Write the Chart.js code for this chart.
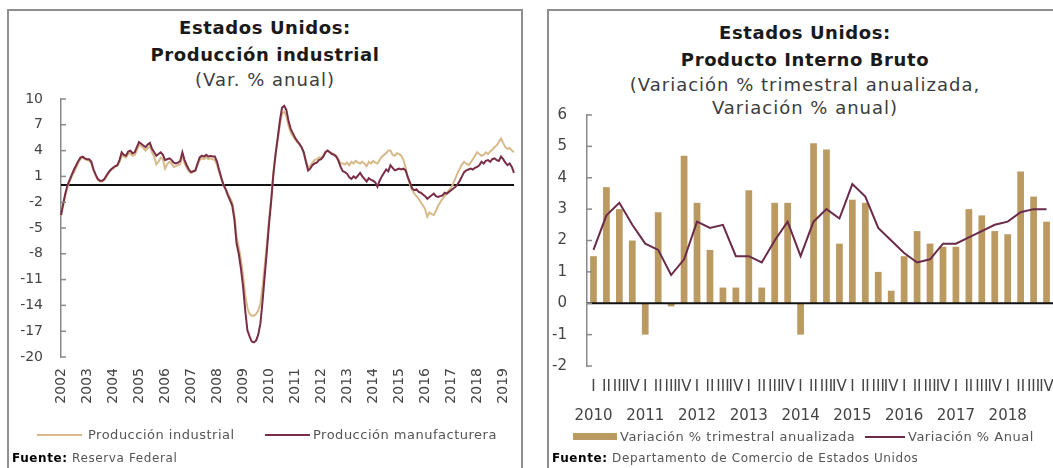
<!DOCTYPE html>
<html><head><meta charset="utf-8">
<script src="https://cdn.jsdelivr.net/npm/chart.js@4.4.1/dist/chart.umd.min.js"></script>
<style>
html,body{margin:0;padding:0;background:#fff;}
body{width:1053px;height:468px;position:relative;overflow:hidden;font-family:'DejaVu Sans',sans-serif;}
.panel{position:absolute;border:2px solid #8f8f8f;box-sizing:border-box;}
.t{position:absolute;text-align:center;white-space:nowrap;line-height:20px;}
.b{font-weight:bold;font-size:18px;letter-spacing:0.6px;color:#1a1a1a;}
.s{font-size:18px;letter-spacing:1px;color:#3c3c3c;}
.leg{position:absolute;font-size:13px;letter-spacing:0.5px;line-height:14px;color:#555;white-space:nowrap;}
.sw{position:absolute;}
.src{position:absolute;font-size:12px;letter-spacing:0.6px;line-height:14px;color:#555;white-space:nowrap;}
.src b{color:#000;}
canvas{position:absolute;}
</style></head>
<body>
<div class="panel" style="left:7px;top:9px;width:516px;height:480px;"></div>
<div class="panel" style="left:547px;top:9px;width:530px;height:480px;"></div>

<div class="t b" style="left:7px;width:516px;top:18px;">Estados Unidos:</div>
<div class="t b" style="left:7px;width:516px;top:45px;">Producción industrial</div>
<div class="t s" style="left:7px;width:516px;top:70px;">(Var. % anual)</div>

<div class="t b" style="left:547px;width:516px;top:23px;">Estados Unidos:</div>
<div class="t b" style="left:547px;width:516px;top:50px;">Producto Interno Bruto</div>
<div class="t s" style="left:547px;width:516px;top:75px;">(Variación % trimestral anualizada,</div>
<div class="t s" style="left:547px;width:516px;top:98px;">Variación % anual)</div>

<canvas id="c1" width="511" height="405" style="left:10px;top:12px;width:511px;height:405px;"></canvas>
<canvas id="c2" width="503" height="430" style="left:550px;top:12px;width:503px;height:430px;"></canvas>

<div class="sw" style="left:37px;top:434px;width:45px;height:2px;background:#d7ba8a;"></div>
<div class="leg" style="left:88px;top:428px;">Producción industrial</div>
<div class="sw" style="left:265px;top:434px;width:45px;height:2px;background:#7a2e45;"></div>
<div class="leg" style="left:313px;top:428px;">Producción manufacturera</div>
<div class="src" style="left:12px;top:451px;"><b>Fuente:</b> Reserva Federal</div>

<div class="sw" style="left:573px;top:433px;width:44px;height:7px;background:#bb9a62;"></div>
<div class="leg" style="left:620px;top:430px;">Variación % trimestral anualizada</div>
<div class="sw" style="left:865px;top:436px;width:40px;height:2px;background:#6a2a48;"></div>
<div class="leg" style="left:908px;top:430px;">Variación % Anual</div>
<div class="src" style="left:552px;top:451px;"><b>Fuente:</b> Departamento de Comercio de Estados Unidos</div>

<script>
// ---------- Producción industrial (monthly, Jan 2002 onward) ----------
const ipYears = ['2002','2003','2004','2005','2006','2007','2008','2009','2010','2011','2012','2013','2014','2015','2016','2017','2018','2019'];
const ipYTicks = [10,7,4,1,-2,-5,-8,-11,-14,-17,-20];
const ipIndustrial = [
-3.6,-2.4,-1.2,-0.2,0.4,1.0,1.5,2.0,2.6,3.0,3.2,3.0,
2.9,2.8,2.5,1.7,1.1,0.6,0.4,0.4,0.6,1.0,1.4,1.7,
1.9,2.1,2.2,2.7,3.4,3.3,3.2,3.6,3.7,3.4,3.5,4.0,
4.7,4.5,4.3,4.0,4.3,4.5,3.8,3.3,2.4,2.7,3.2,3.0,
1.9,2.4,2.7,2.5,2.1,2.2,2.3,2.4,3.5,2.5,2.0,1.6,
1.4,1.5,1.7,2.3,2.9,3.1,3.0,3.2,3.0,3.1,3.0,2.9,
2.3,1.5,0.7,0.0,-0.5,-1.0,-1.5,-2.0,-3.5,-6.0,-7.2,-8.6,
-10.5,-12.8,-14.3,-15.0,-15.2,-15.2,-15.0,-14.6,-13.8,-11.8,-9.4,-6.8,
-4.0,-1.5,1.5,3.6,5.3,7.0,8.3,8.5,8.0,6.9,6.1,5.7,
5.3,5.0,4.7,4.3,3.7,2.8,2.0,2.2,2.6,2.9,3.0,3.2,
3.2,3.4,3.9,4.0,3.8,3.7,3.6,3.4,3.0,2.5,2.5,2.4,
2.6,2.3,2.7,2.5,2.8,2.6,2.5,2.7,2.5,2.2,2.7,2.5,
2.8,2.6,2.5,2.9,3.3,3.5,3.7,4.0,4.0,3.5,3.4,3.7,
3.6,3.4,2.9,2.0,0.9,0.0,-0.6,-1.0,-1.3,-1.6,-2.0,-2.4,
-2.8,-3.7,-3.2,-3.4,-3.5,-3.0,-2.4,-2.0,-1.6,-1.3,-1.0,-0.6,
-0.3,0.2,0.8,1.4,1.9,2.4,2.7,2.5,2.3,2.6,3.0,3.4,
3.8,3.6,3.4,3.5,3.8,3.6,3.9,4.1,4.4,4.6,5.0,5.4,
4.9,4.4,4.2,4.3,4.0,3.8
];
const ipManufacturing = [
-3.5,-2.2,-1.0,0.0,0.6,1.2,1.8,2.3,2.8,3.2,3.3,3.1,
3.0,3.0,2.7,1.8,1.2,0.7,0.5,0.5,0.7,1.1,1.5,1.8,
2.0,2.2,2.3,2.9,3.8,3.5,3.4,3.9,4.0,3.7,3.8,4.4,
5.0,4.8,4.6,4.4,4.7,4.9,4.2,3.8,3.4,3.6,3.8,3.5,
2.9,3.0,3.1,2.9,2.6,2.5,2.6,2.8,3.8,2.9,2.3,1.8,
1.5,1.6,1.7,2.5,3.2,3.4,3.3,3.5,3.3,3.4,3.3,3.3,
2.7,1.7,0.8,0.0,-0.5,-1.2,-1.8,-2.4,-4.0,-6.8,-8.0,-9.7,
-11.8,-14.6,-16.9,-17.6,-18.2,-18.3,-18.1,-17.4,-16.1,-13.5,-10.5,-7.6,
-4.5,-1.8,1.3,3.6,5.5,7.5,9.0,9.2,8.7,7.4,6.5,6.0,
5.5,5.1,4.8,4.4,3.8,2.7,1.7,1.9,2.3,2.5,2.6,2.9,
3.0,3.3,3.8,4.0,3.8,3.6,3.5,3.3,2.8,2.1,1.6,1.5,
1.3,0.9,0.7,1.0,0.8,1.1,1.4,1.0,0.7,0.4,0.8,0.6,
0.5,0.3,-0.2,0.5,1.0,1.4,1.8,1.6,2.3,2.0,1.7,1.8,
1.9,1.8,1.9,1.7,0.9,0.3,-0.4,-0.6,-0.5,-0.8,-0.9,-1.1,
-1.3,-1.6,-1.4,-1.2,-1.0,-1.3,-1.4,-1.3,-1.2,-0.9,-1.0,-0.8,
-0.6,-0.4,-0.2,0.1,0.5,1.0,1.5,1.7,1.8,1.9,1.8,2.0,
2.1,2.3,2.7,2.5,2.8,2.9,2.7,3.0,3.1,2.9,2.8,3.3,
3.0,2.6,2.3,2.5,2.1,1.4
];

// ---------- PIB (quarterly, 2010-I to 2018-IV) ----------
const gdpYears = ['2010','2011','2012','2013','2014','2015','2016','2017','2018'];
const gdpQuarters = ['I','II','III','IV'];
const gdpYTicks = [6,5,4,3,2,1,0,-1,-2];
const gdpQuarterly = [1.5,3.7,3.0,2.0, -1.0,2.9,-0.1,4.7, 3.2,1.7,0.5,0.5, 3.6,0.5,3.2,3.2,
                      -1.0,5.1,4.9,1.9, 3.3,3.2,1.0,0.4, 1.5,2.3,1.9,1.8, 1.8,3.0,2.8,2.3, 2.2,4.2,3.4,2.6];
const gdpAnnual = [1.7,2.8,3.2,2.5, 1.9,1.7,0.9,1.4, 2.6,2.4,2.5,1.5, 1.5,1.3,2.0,2.6,
                   1.5,2.6,3.0,2.7, 3.8,3.4,2.4,2.0, 1.6,1.3,1.4,1.9, 1.9,2.1,2.3,2.5, 2.6,2.9,3.0,3.0];

// ---------- build categories ----------
const ipAllMonths = [];
ipYears.forEach(y => { for (let m = 1; m <= 12; m++) ipAllMonths.push(y + '-' + String(m).padStart(2, '0')); });
const ipLabels = ipAllMonths.slice(0, ipIndustrial.length);
const gdpLabels = [];
gdpYears.forEach(y => gdpQuarters.forEach((q, k) => gdpLabels.push(k === 0 ? [q, y] : [q, ''])));

Chart.defaults.font.family = "'DejaVu Sans', sans-serif";
Chart.defaults.color = '#555';

const decor = {
  id: 'decor',
  beforeDatasetsDraw(chart, args, o) { if (!o.zeroOnTop) drawZero(chart); },
  afterDatasetsDraw(chart, args, o) { if (o.zeroOnTop) drawZero(chart); drawInnerTicks(chart); }
};
function drawZero(chart) {
  const ctx = chart.ctx, y = chart.scales.y, a = chart.chartArea;
  const p = y.getPixelForValue(0);
  ctx.save(); ctx.strokeStyle = '#111'; ctx.lineWidth = 2;
  ctx.beginPath(); ctx.moveTo(a.left, p); ctx.lineTo(a.right, p); ctx.stroke(); ctx.restore();
}
function drawInnerTicks(chart) {
  const ctx = chart.ctx, y = chart.scales.y, x0 = chart.chartArea.left;
  ctx.save(); ctx.strokeStyle = '#8a8a8a'; ctx.lineWidth = 1.5;
  y.ticks.forEach((t, i) => {
    const p = y.getPixelForTick(i);
    ctx.beginPath(); ctx.moveTo(x0, p); ctx.lineTo(x0 + 5, p); ctx.stroke();
  });
  ctx.restore();
}
function fitX(h) {
  return s => { s.height = h; s.paddingLeft = 0; s.paddingRight = 0; };
}

new Chart(document.getElementById('c1'), {
  type: 'line',
  data: {
    labels: ipLabels,
    datasets: [
      { label: 'Producción industrial', data: ipIndustrial, borderColor: '#d7ba8a', borderWidth: 2, pointRadius: 0, tension: 0, order: 1 },
      { label: 'Producción manufacturera', data: ipManufacturing, borderColor: '#7a2e45', borderWidth: 2, pointRadius: 0, tension: 0, order: 0 }
    ]
  },
  options: {
    responsive: false, animation: false, devicePixelRatio: 1,
    layout: { padding: { top: 87, right: 7, left: 0, bottom: 0 } },
    plugins: { legend: { display: false }, tooltip: { enabled: false }, decor: { zeroOnTop: false } },
    scales: {
      x: {
        type: 'category', offset: false,
        grid: { display: false, drawTicks: false }, border: { display: false },
        ticks: {
          autoSkip: false, minRotation: 90, maxRotation: 90, padding: 11,
          font: { size: 14 }, color: '#444',
          callback: (v, i) => (i % 12 === 0 ? ipLabels[i].slice(0, 4) : null)
        },
        afterFit: fitX(60)
      },
      y: {
        min: -20, max: 10,
        afterBuildTicks: s => { s.ticks = ipYTicks.map(v => ({ value: v })); },
        grid: { display: false, drawTicks: false },
        border: { display: true, color: '#8a8a8a', width: 1.5 },
        ticks: { padding: 18, font: { size: 14 }, color: '#444' },
        afterFit: s => { s.width = 51; }
      }
    }
  },
  plugins: [decor]
});

new Chart(document.getElementById('c2'), {
  type: 'bar',
  data: {
    labels: gdpLabels,
    datasets: [
      { type: 'line', label: 'Variación % Anual', data: gdpAnnual, borderColor: '#6a2a48', borderWidth: 2, pointRadius: 0, tension: 0, order: 0 },
      { type: 'bar', label: 'Variación % trimestral anualizada', data: gdpQuarterly, backgroundColor: '#bb9a62', categoryPercentage: 1, barPercentage: 0.52, order: 1 }
    ]
  },
  options: {
    responsive: false, animation: false, devicePixelRatio: 1,
    layout: { padding: { top: 103, right: 0, left: 0, bottom: 2 } },
    plugins: { legend: { display: false }, tooltip: { enabled: false }, decor: { zeroOnTop: true } },
    scales: {
      x: {
        type: 'category', offset: true,
        grid: { display: false, drawTicks: false }, border: { display: false },
        ticks: { autoSkip: false, maxRotation: 0, minRotation: 0, padding: 7, font: { size: 15, lineHeight: 1.93 }, color: '#444' },
        afterFit: fitX(74)
      },
      y: {
        min: -2, max: 6,
        afterBuildTicks: s => { s.ticks = gdpYTicks.map(v => ({ value: v })); },
        grid: { display: false, drawTicks: false },
        border: { display: true, color: '#8a8a8a', width: 1.5 },
        ticks: { padding: 20, font: { size: 15 }, color: '#444' },
        afterFit: s => { s.width = 37; }
      }
    }
  },
  plugins: [decor]
});
</script>
</body></html>
